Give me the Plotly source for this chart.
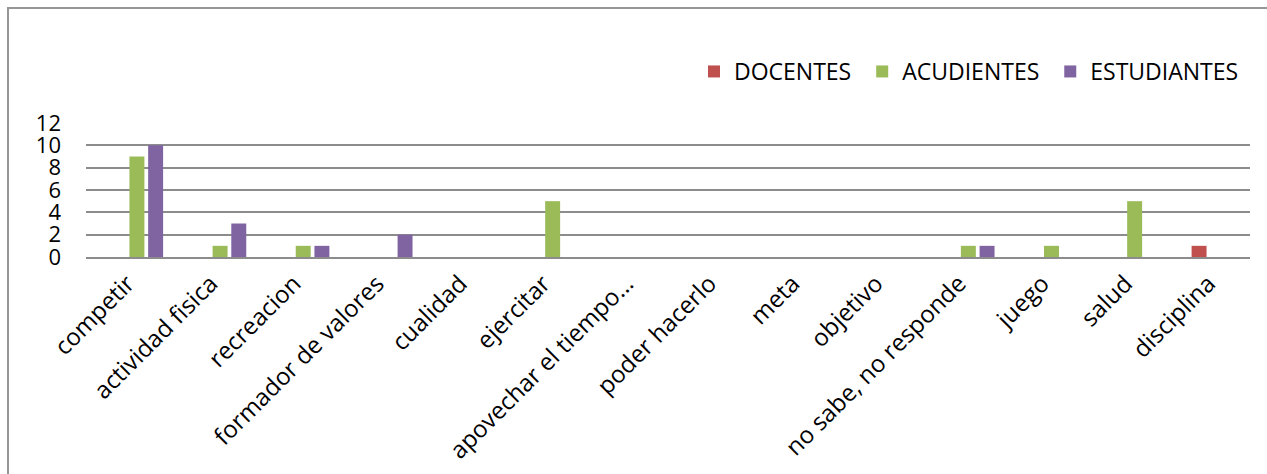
import plotly.graph_objects as go

categories = [
    "competir", "actividad fisica", "recreacion", "formador de valores",
    "cualidad", "ejercitar", "apovechar el tiempo…", "poder hacerlo",
    "meta", "objetivo", "no sabe, no responde", "juego", "salud", "disciplina",
]
docentes = [0, 0, 0, 0, 0, 0, 0, 0, 0, 0, 0, 0, 0, 1]
acudientes = [9, 1, 1, 0, 0, 5, 0, 0, 0, 0, 1, 1, 5, 0]
estudiantes = [10, 3, 1, 2, 0, 0, 0, 0, 0, 0, 1, 0, 0, 0]
y_ticks = [0, 2, 4, 6, 8, 10, 12]

FONT = "Open Sans"
GRID = "#8c8c8c"
PAD = "\u00a0"  # extra room after each legend label

# bar geometry in category units: four slots per category, first slot unused
slot = 0.225
bar_w = 0.18
offsets = [-slot * 0.5 - bar_w / 2, slot * 0.5 - bar_w / 2, slot * 1.5 - bar_w / 2]

series = [
    ("DOCENTES", docentes, "#C0504D"),
    ("ACUDIENTES", acudientes, "#9BBB59"),
    ("ESTUDIANTES", estudiantes, "#8064A2"),
]

fig = go.Figure()
for (name, vals, color), off in zip(series, offsets):
    fig.add_trace(go.Bar(
        name=name + PAD, x=list(range(len(categories))), y=vals,
        offset=off, width=bar_w,
        marker=dict(color=color, line=dict(width=0)),
    ))

W, H = 1267, 474
L, R, T, B = 86, 17, 123, 217
pw, ph = W - L - R, H - T - B

def px_x(p):
    return (p - L) / pw

def px_y(p):
    return (H - B - p) / ph

fig.update_layout(
    width=W, height=H,
    margin=dict(l=L, r=R, t=T, b=B, autoexpand=False),
    paper_bgcolor="white", plot_bgcolor="white",
    barmode="overlay",
    font=dict(family=FONT, size=21, color="black"),
    legend=dict(
        orientation="h", xref="container", yref="container",
        x=694 / W, y=1 - 50 / H, xanchor="left", yanchor="top",
        font=dict(family=FONT, size=23, color="black"),
        bgcolor="rgba(0,0,0,0)",
    ),
    xaxis=dict(
        range=[-0.5, len(categories) - 0.5], automargin=False,
        tickmode="array", tickvals=list(range(len(categories))), ticktext=categories,
        tickangle=-45, showgrid=False, zeroline=False,
        showline=True, linecolor=GRID, linewidth=2,
        ticks="", ticklabelstandoff=1,
        tickfont=dict(family=FONT, size=24, color="black"),
    ),
    yaxis=dict(
        range=[0, 12], tickmode="array", tickvals=y_ticks, automargin=False,
        showgrid=True, gridcolor=GRID, gridwidth=2,
        zeroline=False, showline=False, ticks="",
        ticklabelstandoff=24,
        tickfont=dict(family=FONT, size=22, color="black"),
    ),
    shapes=[dict(
        type="rect", xref="paper", yref="paper",
        x0=px_x(8), x1=px_x(1300), y0=px_y(520), y1=px_y(8),
        line=dict(color="#969696", width=2), fillcolor="rgba(0,0,0,0)",
        layer="above",
    )],
)

fig.write_html("out.html")
